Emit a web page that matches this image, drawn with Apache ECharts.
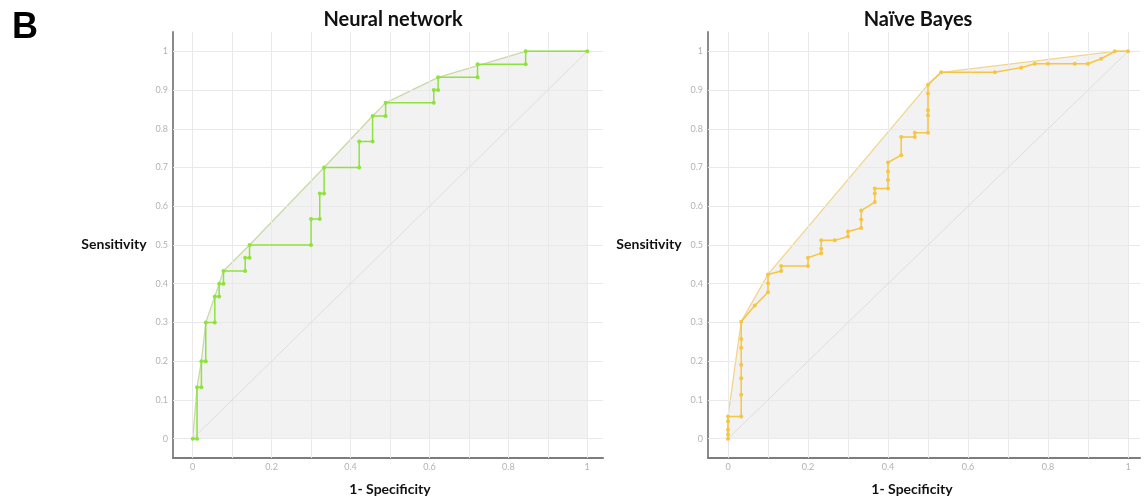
<!DOCTYPE html>
<html>
<head>
<meta charset="utf-8">
<script src="https://cdn.jsdelivr.net/npm/echarts@6/dist/echarts.min.js"></script>
<style>
  html, body { margin: 0; padding: 0; background: #ffffff; }
  #chart { width: 1144px; height: 498px; }
</style>
</head>
<body>
<div id="chart"></div>
<script>
// ---------- data ----------
const panelTitles = ['Neural network', 'Naïve Bayes'];
const aucLabels = ['AUC = 0.752', 'AUC = 0.741'];
const xTickLabels = [0, 0.2, 0.4, 0.6, 0.8, 1];
const yTickLabels = [0, 0.1, 0.2, 0.3, 0.4, 0.5, 0.6, 0.7, 0.8, 0.9, 1];
const gridValues = [0, 0.1, 0.2, 0.3, 0.4, 0.5, 0.6, 0.7, 0.8, 0.9, 1];
const diagonal = [[0, 0], [1, 1]];

// Neural network ROC (1-specificity, sensitivity)
const nnRoc = [
  [0, 0], [0.011, 0], [0.011, 0.133], [0.022, 0.133], [0.022, 0.2], [0.033, 0.2],
  [0.033, 0.3], [0.056, 0.3], [0.056, 0.367], [0.067, 0.367], [0.067, 0.4], [0.078, 0.4],
  [0.078, 0.433], [0.133, 0.433], [0.133, 0.467], [0.144, 0.467], [0.144, 0.5], [0.3, 0.5],
  [0.3, 0.567], [0.322, 0.567], [0.322, 0.633], [0.333, 0.633], [0.333, 0.7], [0.422, 0.7],
  [0.422, 0.767], [0.456, 0.767], [0.456, 0.833], [0.489, 0.833], [0.489, 0.867], [0.611, 0.867],
  [0.611, 0.9], [0.622, 0.9], [0.622, 0.933], [0.722, 0.933], [0.722, 0.967], [0.844, 0.967],
  [0.844, 1], [1, 1]
];
const nnHull = [
  [0, 0], [0.011, 0.133], [0.022, 0.2], [0.033, 0.3], [0.056, 0.367], [0.067, 0.4],
  [0.078, 0.433], [0.144, 0.5], [0.333, 0.7], [0.456, 0.833], [0.489, 0.867],
  [0.622, 0.933], [0.844, 1], [1, 1]
];

// Naive Bayes ROC
const nbRoc = [
  [0, 0], [0, 0.011], [0, 0.023], [0, 0.045], [0, 0.057],
  [0.033, 0.057], [0.033, 0.113], [0.033, 0.156], [0.033, 0.191], [0.033, 0.235], [0.033, 0.257], [0.033, 0.302],
  [0.067, 0.344], [0.1, 0.378], [0.1, 0.401], [0.1, 0.424],
  [0.133, 0.433], [0.133, 0.446], [0.2, 0.446], [0.2, 0.467],
  [0.233, 0.479], [0.233, 0.49], [0.233, 0.512], [0.267, 0.512],
  [0.3, 0.522], [0.3, 0.535], [0.333, 0.544], [0.333, 0.566], [0.333, 0.589],
  [0.367, 0.611], [0.367, 0.633], [0.367, 0.646], [0.4, 0.646], [0.4, 0.668], [0.4, 0.69], [0.4, 0.713],
  [0.433, 0.732], [0.433, 0.779], [0.467, 0.779], [0.467, 0.79], [0.5, 0.79], [0.5, 0.835], [0.5, 0.848],
  [0.5, 0.891], [0.5, 0.914],
  [0.533, 0.946], [0.667, 0.946], [0.733, 0.958], [0.767, 0.968], [0.8, 0.968], [0.867, 0.968],
  [0.9, 0.968], [0.933, 0.981], [0.967, 1], [1, 1]
];
const nbHull = [
  [0, 0], [0, 0.057], [0.033, 0.302], [0.1, 0.424], [0.5, 0.914], [0.533, 0.946], [0.967, 1], [1, 1]
];

// ---------- chart ----------
const FONT = 'Lato, "Open Sans", sans-serif';
const chart = echarts.init(document.getElementById('chart'), null, { renderer: 'canvas' });

const panels = [
  { roc: nnRoc, hull: nnHull, line: '#8fe23e', hullColor: '#c9d9a4', left: 173, width: 430, xMax: 1.04,
    titleX: 393, sensX: 114, specX: 390, aucX: 430 },
  { roc: nbRoc, hull: nbHull, line: '#f6c544', hullColor: '#f2d58c', left: 708, width: 432, xMax: 1.03,
    titleX: 918, sensX: 649, specX: 912, aucX: 966 }
];

const grids = [], xAxes = [], yAxes = [], series = [], graphics = [];

const labelFmt = v => String(Math.round(v * 10) / 10);

panels.forEach((p, i) => {
  grids.push({ left: p.left, top: 32, width: p.width, height: 426, containLabel: false });
  xAxes.push({
    type: 'value', gridIndex: i, min: -0.05, max: p.xMax,
    axisLine: { show: true, onZero: false, lineStyle: { color: '#7d7d7d', width: 2 } },
    axisTick: { show: false },
    splitLine: { show: false },
    axisLabel: { customValues: xTickLabels, formatter: labelFmt, color: '#b3b3b3', fontSize: 9, margin: 5, fontFamily: FONT }
  });
  yAxes.push({
    type: 'value', gridIndex: i, min: -0.05, max: 1.05,
    axisLine: { show: true, onZero: false, lineStyle: { color: '#8a8a8a', width: 2 } },
    axisTick: { show: false },
    splitLine: { show: false },
    axisLabel: { customValues: yTickLabels, formatter: labelFmt, color: '#b3b3b3', fontSize: 9, margin: 5, fontFamily: FONT }
  });
  // hull with grey fill
  series.push({
    type: 'line', xAxisIndex: i, yAxisIndex: i, data: p.hull, showSymbol: false, z: 1,
    lineStyle: { color: p.hullColor, width: 1.3 },
    areaStyle: { color: '#f2f2f2', opacity: 1, origin: 'auto' },
    silent: true, animation: false
  });
  // diagonal + grid lines
  series.push({
    type: 'line', xAxisIndex: i, yAxisIndex: i, data: diagonal, showSymbol: false, z: 2,
    lineStyle: { color: '#dedede', width: 1 },
    silent: true, animation: false,
    markLine: {
      z: 2,
      silent: true, symbol: ['none', 'none'], animation: false,
      label: { show: false },
      lineStyle: { type: 'solid', color: '#e9e9e9', width: 1 },
      data: gridValues.map(v => ({ xAxis: v })).concat(gridValues.map(v => ({ yAxis: v })))
    }
  });
  // ROC curve
  series.push({
    type: 'line', xAxisIndex: i, yAxisIndex: i, data: p.roc, z: 6,
    symbol: 'circle', symbolSize: 4, showAllSymbol: true,
    itemStyle: { color: p.line },
    lineStyle: { color: p.line, width: 1.5 },
    animation: false
  });
  graphics.push(
    { type: 'text', x: p.titleX, y: 20, style: { text: panelTitles[i], font: 'bold 20px ' + FONT, fill: '#111', align: 'center', verticalAlign: 'middle' } },
    { type: 'text', x: p.sensX, y: 244, style: { text: 'Sensitivity', font: 'bold 14px ' + FONT, fill: '#111', align: 'center', verticalAlign: 'middle' } },
    { type: 'text', x: p.specX, y: 489, style: { text: '1- Specificity', font: 'bold 14px ' + FONT, fill: '#111', align: 'center', verticalAlign: 'middle' } },
    { type: 'text', x: p.aucX, y: 285, style: { text: aucLabels[i], font: '14px ' + FONT, fill: '#222', align: 'center', verticalAlign: 'middle' } }
  );
});

graphics.push({ type: 'text', x: 12, y: 28, style: { text: 'B', font: 'bold 36px "Liberation Sans", Arial, sans-serif', fill: '#000', align: 'left', verticalAlign: 'middle' } });

chart.setOption({
  animation: false,
  backgroundColor: '#ffffff',
  grid: grids,
  xAxis: xAxes,
  yAxis: yAxes,
  series: series,
  graphic: graphics
});
</script>
</body>
</html>
